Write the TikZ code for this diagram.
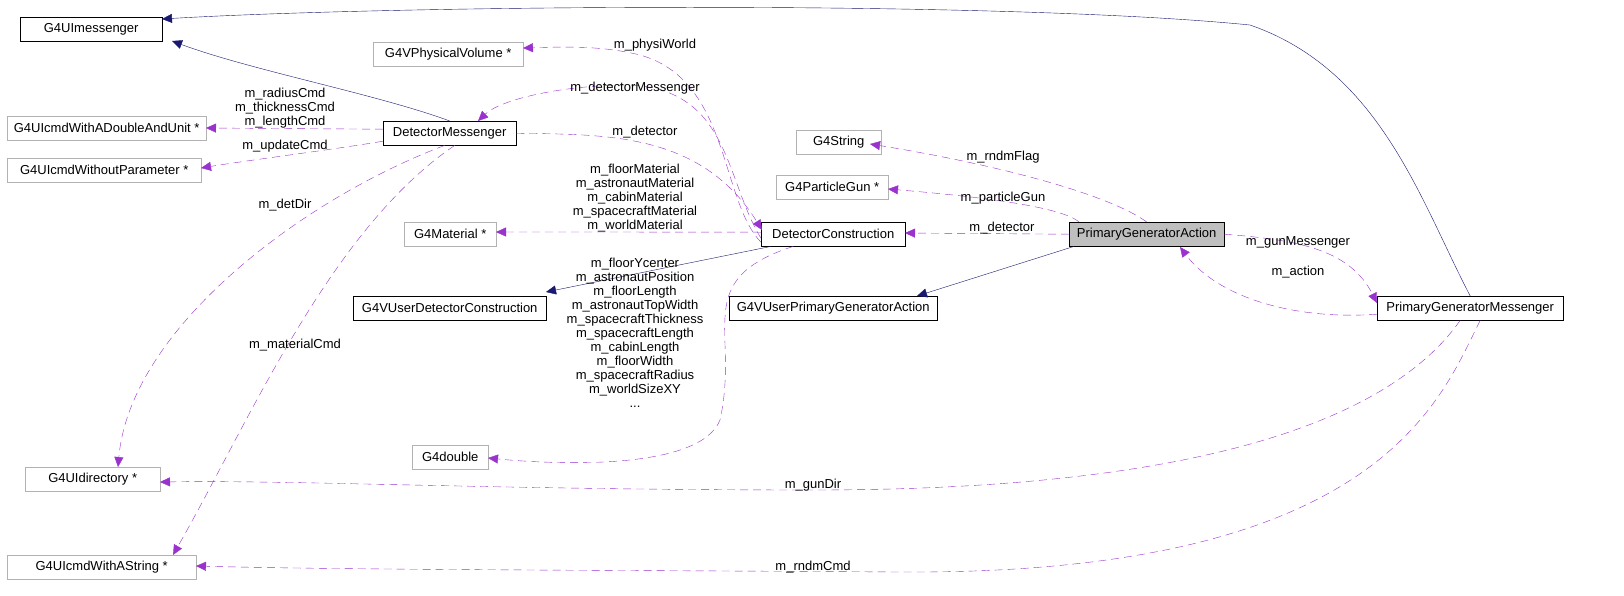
\documentclass[tikz,border=0pt]{standalone}
\usepackage{fontspec}
\setmainfont{Liberation Sans}
\usetikzlibrary{arrows.meta}
\definecolor{pur}{HTML}{9A32CD}
\definecolor{nav}{HTML}{191970}
\begin{document}
\begin{tikzpicture}[x=1pt,y=-1pt,
 every node/.style={font=\fontsize{13}{14}\selectfont},
 box/.style={draw=black,fill=white,minimum height=24pt,inner sep=0pt,anchor=north west},
 gbox/.style={box,draw=gray!60},
 lab/.style={align=center,inner sep=1pt},
 use/.style={draw=pur,dash pattern=on 8pt off 5pt,-{Triangle[length=10pt,width=9pt]}},
 inh/.style={draw=nav,-{Triangle[length=10pt,width=9pt]}}]
\useasboundingbox (0,0) rectangle (1624,595);
\node[box,minimum width=142pt] (ui) at (20,17) {G4UImessenger};
\node[gbox,minimum width=150pt] (pv) at (373,42) {G4VPhysicalVolume *};
\node[gbox,minimum width=199pt] (dau) at (7,116) {G4UIcmdWithADoubleAndUnit *};
\node[box,minimum width=133pt] (dm) at (383,121) {DetectorMessenger};
\node[gbox,minimum width=85pt] (str) at (796,130) {G4String};
\node[gbox,minimum width=194pt] (wp) at (7,158) {G4UIcmdWithoutParameter *};
\node[gbox,minimum width=112pt] (pg) at (776,175) {G4ParticleGun *};
\node[gbox,minimum width=92pt] (mat) at (404,222) {G4Material *};
\node[box,minimum width=144pt] (dc) at (761,222) {DetectorConstruction};
\node[box,fill=gray!50,minimum width=155pt] (pga) at (1069,222) {PrimaryGeneratorAction};
\node[box,minimum width=193pt] (vdc) at (353,296) {G4VUserDetectorConstruction};
\node[box,minimum width=208pt] (vpga) at (729,296) {G4VUserPrimaryGeneratorAction};
\node[box,minimum width=186pt] (pgm) at (1377,296) {PrimaryGeneratorMessenger};
\node[gbox,minimum width=76pt] (dbl) at (412,445) {G4double};
\node[gbox,minimum width=135pt] (dir) at (25,467) {G4UIdirectory *};
\node[gbox,minimum width=189pt] (as) at (7,555) {G4UIcmdWithAString *};
% inheritance
\draw[inh] (dm.north) .. controls (380,95) and (250,70) .. (172,41);
\draw[inh] (pgm.north) .. controls (1420,200) and (1380,70) .. (1250,25) .. controls (1000,0) and (400,5) .. (162,19);
\draw[inh] (dc.south west) ++(10,0) -- (546,292);
\draw[inh] (pga.south west) ++(5,0) -- (917,296);
% usage
\draw[use] (dc.west) ++(0,8) .. controls (720,200) and (730,80) .. (640,55) .. controls (600,45) and (560,47) .. (523,48);
\draw[use] (dc.west) ++(0,4) .. controls (725,180) and (730,90) .. (630,85) .. controls (560,85) and (500,100) .. (478,121);
\draw[use] (dm.east) .. controls (600,135) and (700,130) .. (762,230);
\draw[use] (dm.west) ++(0,-4) -- (206,128);
\draw[use] (dm.west) ++(0,8) .. controls (330,150) and (250,160) .. (201,168);
\draw[use] (dm.south) ++(-5,0) .. controls (300,200) and (130,330) .. (118,467);
\draw[use] (dm.south) ++(5,0) .. controls (330,230) and (250,420) .. (173,555);
\draw[use] (dc.west) ++(0,-2) .. controls (650,232) and (560,232) .. (496,232);
\draw[use] (dc.south) ++(-40,0) .. controls (690,280) and (740,330) .. (720,420) .. controls (700,470) and (560,465) .. (488,458);
\draw[use] (pga.west) -- (905,233);
\draw[use] (pga.north) .. controls (1110,195) and (1000,165) .. (870,144);
\draw[use] (pga.north west) ++(10,0) .. controls (1060,205) and (960,195) .. (888,189);
\draw[use] (pga.east) .. controls (1300,240) and (1350,250) .. (1377,303);
\draw[use] (pgm.west) ++(0,6) .. controls (1300,320) and (1220,300) .. (1180,247);
\draw[use] (pgm.south) ++(-10,0) .. controls (1390,420) and (1200,490) .. (813,490) .. controls (500,490) and (300,480) .. (160,482);
\draw[use] (pgm.south) ++(10,0) .. controls (1440,400) and (1380,575) .. (900,572) .. controls (600,570) and (350,570) .. (196,566);
% labels
\node[lab] (l1) at (655,45) {m\_physiWorld};
\node[lab] (l2) at (635,88) {m\_detectorMessenger};
\node[lab] (l3) at (645,132) {m\_detector};
\node[lab] (l4) at (285,108) {m\_radiusCmd\\m\_thicknessCmd\\m\_lengthCmd};
\node[lab] (l5) at (285,146) {m\_updateCmd};
\node[lab] (l6) at (285,205) {m\_detDir};
\node[lab] (l7) at (295,345) {m\_materialCmd};
\node[lab] (l8) at (635,198) {m\_floorMaterial\\m\_astronautMaterial\\m\_cabinMaterial\\m\_spacecraftMaterial\\m\_worldMaterial};
\node[lab] (l9) at (635,333) {m\_floorYcenter\\m\_astronautPosition\\m\_floorLength\\m\_astronautTopWidth\\m\_spacecraftThickness\\m\_spacecraftLength\\m\_cabinLength\\m\_floorWidth\\m\_spacecraftRadius\\m\_worldSizeXY\\...};
\node[lab] (l10) at (1002,228) {m\_detector};
\node[lab] (l11) at (1003,157) {m\_rndmFlag};
\node[lab] (l12) at (1003,198) {m\_particleGun};
\node[lab] (l13) at (1298,242) {m\_gunMessenger};
\node[lab] (l14) at (1298,272) {m\_action};
\node[lab] (l15) at (813,485) {m\_gunDir};
\node[lab] (l16) at (813,567) {m\_rndmCmd};
\end{tikzpicture}
\end{document}
